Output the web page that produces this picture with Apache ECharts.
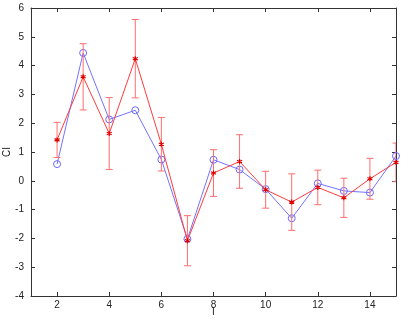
<!DOCTYPE html>
<html>
<head>
<meta charset="utf-8">
<script src="https://cdn.jsdelivr.net/npm/echarts@6/dist/echarts.min.js"></script>
<style>
  html, body { margin:0; padding:0; background:#fff; }
  #chart { width:402px; height:320px; }
</style>
</head>
<body>
<div id="chart"></div>
<script>
// data
const xs = [2, 3, 4, 5, 6, 7, 8, 9, 10, 11, 12, 13, 14, 15];
const blueVals = [0.58, 4.44, 2.13, 2.45, 0.74, -2.02, 0.73, 0.39, -0.29, -1.30, -0.09, -0.35, -0.41, 0.86];
const redVals  = [1.42, 3.61, 1.64, 4.24, 1.27, -2.08, 0.27, 0.67, -0.31, -0.74, -0.23, -0.59, 0.07, 0.64];
const redErr   = [0.61, 1.15, 1.25, 1.36, 0.93, 0.87, 0.81, 0.93, 0.64, 0.98, 0.60, 0.68, 0.71, 0.67];
const xTicks = [2, 4, 6, 8, 10, 12, 14];

const chart = echarts.init(document.getElementById('chart'));

const axisCol = '#333';
const font = 'Liberation Sans, Arial, sans-serif';
const starPath = 'path://M0,-5L0,5M-4.33,-2.5L4.33,2.5M-4.33,2.5L4.33,-2.5';

function xAxisCfg(pos, showLabels) {
  return {
    type: 'value', position: pos, min: 1, max: 15,
    name: showLabels ? 'I' : '', nameLocation: 'middle', nameGap: 11, nameMoveOverlap: false,
    nameTextStyle: {fontSize: 10, color: '#222', fontFamily: font},
    axisLine: {show: true, onZero: false, lineStyle: {color: axisCol, width: 1}},
    axisTick: {show: true, inside: true, length: 4, customValues: xTicks, lineStyle: {color: axisCol}},
    axisLabel: {show: showLabels, customValues: xTicks, fontSize: 10, color: '#222', fontFamily: font, margin: 4},
    splitLine: {show: false}
  };
}
function yAxisCfg(pos, showLabels) {
  return {
    type: 'value', position: pos, min: -4, max: 6, interval: 1,
    name: showLabels ? 'CI' : '', nameLocation: 'middle', nameGap: 19, nameMoveOverlap: false,
    nameTextStyle: {fontSize: 10, color: '#222', fontFamily: font},
    axisLine: {show: true, onZero: false, lineStyle: {color: axisCol, width: 1}},
    axisTick: {show: true, inside: true, length: 4, lineStyle: {color: axisCol}},
    axisLabel: {show: showLabels, fontSize: 10, color: '#222', fontFamily: font, margin: 7},
    splitLine: {show: false}
  };
}

chart.setOption({
  animation: false,
  grid: {left: 31, right: 6, top: 8, bottom: 24, outerBoundsMode: 'none'},
  xAxis: [xAxisCfg('bottom', true), xAxisCfg('top', false)],
  yAxis: [yAxisCfg('left', true), yAxisCfg('right', false)],
  series: [
    {
      type: 'line',
      data: xs.map((x, i) => [x, blueVals[i]]),
      symbol: 'circle', symbolSize: 7, showAllSymbol: true,
      lineStyle: {color: '#7373ff', width: 1},
      itemStyle: {color: 'rgba(0,0,0,0)', borderColor: '#6a6aff', borderWidth: 1},
      z: 2
    },
    {
      type: 'custom',
      data: xs.map((x, i) => [x, redVals[i] - redErr[i], redVals[i] + redErr[i]]),
      renderItem: (params, api) => {
        const lo = api.coord([api.value(0), api.value(1)]);
        const hi = api.coord([api.value(0), api.value(2)]);
        const w = 3.5;
        const st = {stroke: '#ff6e6e', lineWidth: 1};
        return {
          type: 'group',
          children: [
            {type: 'line', shape: {x1: lo[0], y1: lo[1], x2: hi[0], y2: hi[1]}, style: st},
            {type: 'line', shape: {x1: lo[0] - w, y1: lo[1], x2: lo[0] + w, y2: lo[1]}, style: st},
            {type: 'line', shape: {x1: hi[0] - w, y1: hi[1], x2: hi[0] + w, y2: hi[1]}, style: st}
          ]
        };
      },
      clip: true,
      z: 3
    },
    {
      type: 'line',
      data: xs.map((x, i) => [x, redVals[i]]),
      symbol: starPath, symbolSize: 5, showAllSymbol: true,
      lineStyle: {color: '#ff3b3b', width: 1},
      itemStyle: {color: 'rgba(0,0,0,0)', borderColor: '#e00000', borderWidth: 1.2},
      z: 4
    }
  ]
});
</script>
</body>
</html>
